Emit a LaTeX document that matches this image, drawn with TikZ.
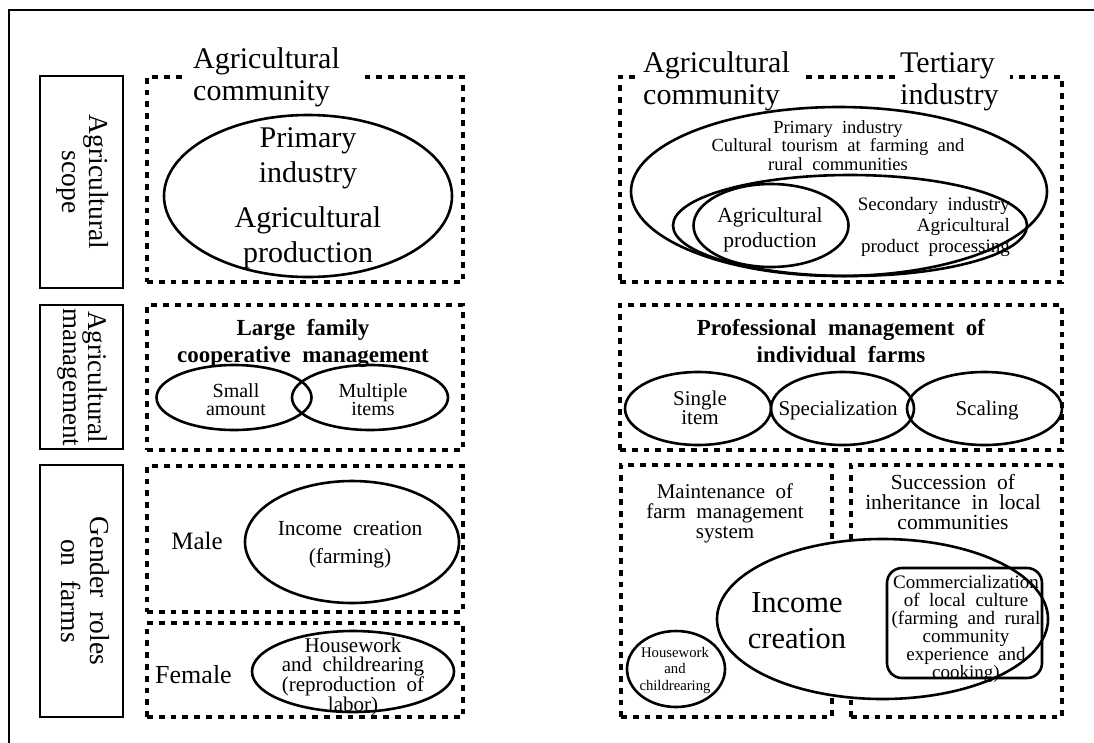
\documentclass[tikz,border=0pt]{standalone}
\usepackage{fontspec}
\setmainfont{Liberation Serif}
\usetikzlibrary{shapes.geometric}
% font size helper and stacked lines with the first baseline as reference
\newcommand{\fsz}[2]{\fontsize{#1pt}{#2pt}\selectfont}
\newcommand{\widesp}{\spaceskip=0.5em plus 0.1em minus 0.05em\relax}
\newcommand{\mlt}[2]{\begin{tabular}[t]{@{}#1@{}}#2\end{tabular}}

\begin{document}
\begin{tikzpicture}[x=1pt,y=-1pt,
  frame/.style={line width=2.7pt},
  labelbox/.style={draw, rectangle, line width=2.8pt, inner sep=0pt, minimum width=83pt},
  vlabel/.style={inner sep=0pt, rotate=-90, font=\fsz{27.5}{27}},
  dotbox/.style={draw, rectangle, line width=3.2pt, dash pattern=on 5.8pt off 6pt, inner sep=0pt},
  ell/.style={draw, ellipse, line width=2.6pt, inner sep=0pt},
  txt/.style={inner sep=0pt, anchor=base},
  title/.style={fill=white, inner ysep=4pt, anchor=base west, font=\fsz{30}{32}}]

\fill[white] (0,0) rectangle (1094,742);
\useasboundingbox (0,0) rectangle (1094,742);

% outer frame corner
\coordinate (fBL) at (9,745);
\coordinate (fTL) at (9,10);
\coordinate (fTR) at (1097,10);
\draw[frame] (fBL) -- (fTL) -- (fTR);

% row labels
\node[labelbox, minimum height=212pt] (scopebox) at (81.5,182) {};
\node[vlabel] (scopetext) at (scopebox.center) {\mlt{c}{Agricultural\\scope}};
\node[labelbox, minimum height=144pt] (mgmtbox) at (81.5,377) {};
\node[vlabel, font=\fsz{27}{25}] (mgmttext) at (mgmtbox.center) {\mlt{c}{Agricultural\\management}};
\node[labelbox, minimum height=252pt] (genderbox) at (81.5,591) {};
\node[vlabel, font=\fsz{27.5}{29}\widesp] (gendertext) at (genderbox.center) {\mlt{c}{Gender roles\\on farms}};

% dotted frames
\node[dotbox, minimum width=316pt, minimum height=205pt] (scopeL) at (305,179.5) {};
\node[dotbox, minimum width=442pt, minimum height=205pt] (scopeR) at (841,179.5) {};
\node[dotbox, minimum width=316pt, minimum height=145pt] (mgmtL) at (305,377.5) {};
\node[dotbox, minimum width=442pt, minimum height=145pt] (mgmtR) at (841,377.5) {};
\node[dotbox, minimum width=316pt, minimum height=146pt] (male) at (305,539) {};
\node[dotbox, minimum width=316pt, minimum height=94pt] (female) at (305,670) {};
\node[dotbox, minimum width=211pt, minimum height=252pt] (maint) at (726.5,591) {};
\node[dotbox, minimum width=211pt, minimum height=252pt] (succ) at (956.5,591) {};

% frame titles
\node[title, inner xsep=6pt] (titleL) at (187,68) {\mlt{p{161pt}}{Agricultural\\community}};
\node[title, inner xsep=3pt] (titleR1) at (640,72) {\mlt{p{156pt}}{Agricultural\\community}};
\node[title, inner xsep=3pt] (titleR2) at (897,72) {\mlt{p{107pt}}{Tertiary\\industry}};

% agricultural scope, traditional
\node[ell, minimum width=288pt, minimum height=162pt] (primL) at (308,196) {};
\node[txt, font=\fsz{30}{35}] (primLt) at (308,147) {\mlt{c}{Primary\\industry}};
\node[txt, font=\fsz{30}{35}] (prodLt) at (308,227) {\mlt{c}{Agricultural\\production}};

% agricultural scope, extended
\node[ell, minimum width=416pt, minimum height=169pt] (primR) at (839,191.5) {};
\node[ell, minimum width=354pt, minimum height=101pt] (secR) at (850,225.5) {};
\node[ell, minimum width=155pt, minimum height=83pt] (prodR) at (771,225.5) {};
\node[txt, font=\fsz{18.5}{18.7}\widesp] (primRt) at (838,133) {\mlt{c}{Primary industry\\Cultural tourism at farming and\\rural communities}};
\node[txt, font=\fsz{21.5}{25}] (prodRt) at (770,222) {\mlt{c}{Agricultural\\production}};
\node[txt, anchor=base east, font=\fsz{19}{21}\widesp] (secRt) at (1010,210) {\mlt{r}{Secondary industry\\Agricultural\\product processing}};

% agricultural management, traditional
\node[txt, font=\fsz{23}{27}\bfseries\widesp] (largeT) at (303,335) {\mlt{c}{Large family\\cooperative management}};
\node[ell, minimum width=155pt, minimum height=65pt] (small) at (234,397.5) {};
\node[ell, minimum width=156pt, minimum height=65pt] (multi) at (370,397.5) {};
\node[txt, font=\fsz{20}{18}] (smallT) at (236,397) {\mlt{c}{Small\\amount}};
\node[txt, font=\fsz{20}{18}] (multiT) at (373,397) {\mlt{c}{Multiple\\items}};

% agricultural management, professional
\node[txt, font=\fsz{23}{27}\bfseries\widesp] (profT) at (841,335) {\mlt{c}{Professional management of\\individual farms}};
\node[ell, minimum width=146pt, minimum height=73pt] (single) at (698,408.5) {};
\node[ell, minimum width=143pt, minimum height=73pt] (special) at (842.5,408.5) {};
\node[ell, minimum width=155pt, minimum height=73pt] (scaling) at (984.5,408.5) {};
\node[txt, font=\fsz{21}{18}] (singleT) at (700,405) {\mlt{c}{Single\\item}};
\node[txt, font=\fsz{21}{18}] (specialT) at (838,415) {Specialization};
\node[txt, font=\fsz{21}{18}] (scalingT) at (987,415) {Scaling};

% gender roles, traditional
\node[txt, font=\fsz{25}{25}] (maleT) at (197,549) {Male};
\node[ell, minimum width=214pt, minimum height=122pt] (incM) at (352,542) {};
\node[txt, font=\fsz{21.5}{28}\widesp] (incMt) at (350,535) {\mlt{c}{Income creation\\(farming)}};
\node[txt, font=\fsz{26}{26}] (femaleT) at (193.5,683) {Female};
\node[ell, minimum width=202pt, minimum height=81pt] (hwF) at (353,671.5) {};
\node[txt, font=\fsz{21}{17}\widesp] (hwFt) at (353,652) {\mlt{c}{Housework\\and childrearing\\(reproduction of\\labor)}};

% gender roles, individual farms
\node[txt, font=\fsz{21}{19.5}\widesp] (maintT) at (725,498) {\mlt{c}{Maintenance of\\farm management\\system}};
\node[txt, font=\fsz{21.5}{19}\widesp] (succT) at (953,489) {\mlt{c}{Succession of\\inheritance in local\\communities}};
\node[ell, fill=white, minimum width=331pt, minimum height=160pt] (incR) at (882.5,619) {};
\node[draw, rectangle, rounded corners=15pt, line width=2.6pt, inner sep=0pt, minimum width=155pt, minimum height=110pt] (comm) at (964.5,623) {};
\node[txt, font=\fsz{30.5}{36}] (incRt) at (797,612) {\mlt{c}{Income\\creation}};
\node[txt, font=\fsz{19}{16.5}\widesp] (commT) at (966,588) {\mlt{c}{Commercialization\\of local culture\\(farming and rural\\community\\experience and\\cooking)}};
\node[ell, minimum width=98pt, minimum height=76pt] (hwR) at (676,669) {};
\node[txt, font=\fsz{14.7}{16.5}] (hwRt) at (675,657) {\mlt{c}{Housework\\and\\childrearing}};

\end{tikzpicture}
\end{document}
